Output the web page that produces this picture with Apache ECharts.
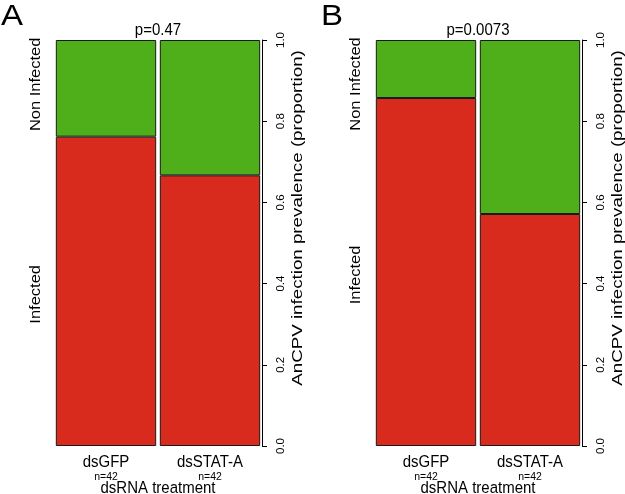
<!DOCTYPE html>
<html><head><meta charset="utf-8">
<script src="https://cdn.jsdelivr.net/npm/echarts@6/dist/echarts.min.js"></script>
<style>html,body{margin:0;padding:0;background:#fff}#c{width:625px;height:494px}</style>
</head><body><div id="c"></div>
<script>
const categories = ['dsGFP', 'dsSTAT-A'];
const sampleSizes = [42, 42];
const infectedA = [32, 28];
const infectedB = [36, 24];
const pValues = ['p=0.47', 'p=0.0073'];
const panelLetters = ['A', 'B'];
const yLevels = ['Infected', 'Non Infected'];
const xTitle = 'dsRNA treatment';
const yTitle = 'AnCPV infection prevalence (proportion)';

const FONT = 'Liberation Sans, Arial, sans-serif';
const RED = '#d92b1d', GREEN = '#4faf1a';
const chart = echarts.init(document.getElementById('c'));

const grids = [
  {left: 54, right: 363, top: 40, bottom: 48, outerBoundsMode: 'none', containLabel: false},
  {left: 374, right: 43, top: 40, bottom: 48, outerBoundsMode: 'none', containLabel: false}
];
const panels = [infectedA, infectedB];
const props = panels.map(inf => inf.map((v, k) => v / sampleSizes[k]));

const xAxis = [], yAxis = [], series = [];
props.forEach((infP, i) => {
  xAxis.push({
    type: 'category', gridIndex: i, data: categories,
    axisLine: {show: false}, axisTick: {show: false}, axisLabel: {show: false}
  });
  yAxis.push({
    type: 'value', gridIndex: i, position: 'right', min: 0, max: 1, interval: 0.2,
    splitLine: {show: false},
    axisLine: {show: true, lineStyle: {color: '#000', width: 1}},
    axisTick: {show: true, length: 5, lineStyle: {color: '#000'}},
    axisLabel: {rotate: 90, margin: 13, fontSize: 11.5, fontFamily: FONT, color: '#000',
      formatter: v => v.toFixed(1)}
  });
  series.push({
    type: 'bar', xAxisIndex: i, yAxisIndex: i, stack: 's' + i, data: infP,
    barCategoryGap: '3.5%',
    itemStyle: {color: RED, borderColor: '#1a1a1a', borderWidth: 1}, silent: true
  });
  series.push({
    type: 'bar', xAxisIndex: i, yAxisIndex: i, stack: 's' + i, data: infP.map(v => 1 - v),
    barCategoryGap: '3.5%',
    itemStyle: {color: GREEN, borderColor: '#1a1a1a', borderWidth: 1}, silent: true
  });
});

chart.setOption({animation: false, grid: grids, xAxis: xAxis, yAxis: yAxis, series: series});

const txt = (x, y, s, size, rot, sx, sy) => ({
  type: 'text', x: x, y: y, rotation: rot || 0, scaleX: sx || 1, scaleY: sy || 1,
  style: {text: s, fontSize: size, fontFamily: FONT, fill: '#000', align: 'center', verticalAlign: 'middle'}
});
const V = Math.PI / 2;
const g = [];
props.forEach((infP, i) => {
  const px = v => chart.convertToPixel({xAxisIndex: i}, v);
  const py = v => chart.convertToPixel({yAxisIndex: i}, v);
  const y0 = py(0), y1 = py(1);
  const xl = px(categories[0]) , xr = px(categories[1]);
  const xMid = (xl + xr) / 2;
  const gridLeft = grids[i].left, gridRight = 625 - grids[i].right;
  g.push(txt(gridLeft - 42, 17, panelLetters[i], 33, 0, 1, 0.9));
  g.push(txt(xMid, y1 - 10, pValues[i], 15, 0, 1, 1.1));
  categories.forEach((c, k) => {
    g.push(txt(px(c), y0 + 16, c, 15, 0, 1, 1.15));
    g.push(txt(px(c), y0 + 31, 'n=' + sampleSizes[i], 10.5, 0, 1, 1.1));
  });
  g.push(txt(xMid, y0 + 42, xTitle, 15, 0, 1, 1.1));
  g.push(txt(gridRight + 36, (y0 + y1) / 2 - 25, yTitle, 15, V, 1.25, 1));
  const b = py(infP[0]);
  const xLab = gridLeft - 18;
  g.push(txt(xLab, (y0 + b) / 2 + 3, yLevels[0], 15, V, 1.1, 1));
  const half = 44;
  g.push(txt(xLab, Math.max((b + y1) / 2 - 4, y1 + half), yLevels[1], 15, V, 1.1, 1));
});
chart.setOption({graphic: g});
</script></body></html>
